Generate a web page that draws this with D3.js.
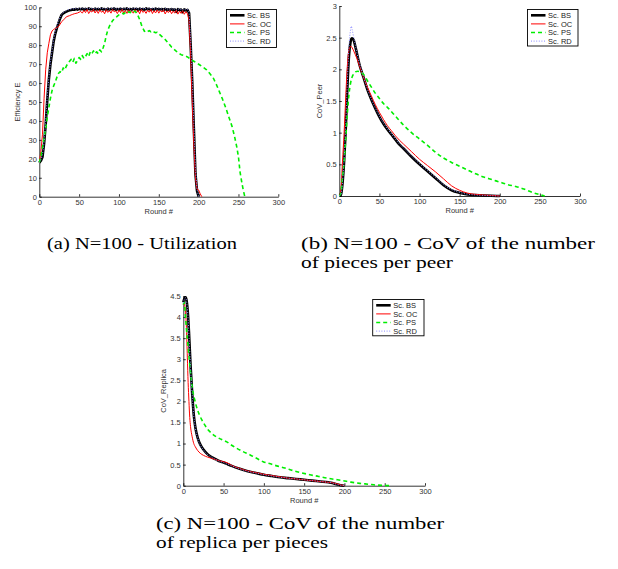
<!DOCTYPE html>
<html>
<head>
<meta charset="utf-8">
<script src="https://cdn.jsdelivr.net/npm/d3@7/dist/d3.min.js"></script>
<style>
  body { margin: 0; background: #fff; }
  .fc-axis text { font-family: "Liberation Sans", Arial, sans-serif; font-size: 7.5px; fill: #333; }
  .fc-axis path, .fc-axis line { stroke: #000; stroke-width: 0.8; }
  .fc-label { font-family: "Liberation Sans", Arial, sans-serif; font-size: 7.5px; fill: #333; }
  .fc-legend text { font-family: "Liberation Sans", Arial, sans-serif; font-size: 7.5px; fill: #222; }
  .fc-caption { font-family: "Liberation Serif", "Times New Roman", serif; font-size: 16.5px; fill: #000; }
</style>
</head>
<body>
<svg id="figure" width="618" height="569"></svg>
<script>

// Legend names and tick labels shared by the three plots
var scenarioNames = ['Sc. BS', 'Sc. OC', 'Sc. PS', 'Sc. RD'];
var roundTicks    = [0, 50, 100, 150, 200, 250, 300];
var effTicks      = [0, 10, 20, 30, 40, 50, 60, 70, 80, 90, 100];
var peerTicks     = [0, 0.5, 1, 1.5, 2, 2.5, 3];
var replicaTicks  = [0, 0.5, 1, 1.5, 2, 2.5, 3, 3.5, 4, 4.5];

// (a) Efficiency E per round
var roundsEff = [0, 2, 4, 6, 8, 10, 12, 14, 16, 18, 20, 22, 24, 26, 28, 30, 32, 34, 36, 38, 40, 42, 44, 46, 48, 50,
  52, 54, 56, 58, 60, 62, 64, 66, 68, 70, 72, 74, 76, 78, 80, 82, 84, 86, 88, 90, 92, 94, 96, 98, 100,
  102, 104, 106, 108, 110, 112, 114, 116, 118, 120, 122, 124, 126, 128, 130, 132, 134, 136, 138, 140,
  142, 144, 146, 148, 150, 152, 154, 156, 158, 160, 162, 164, 166, 168, 170, 172, 174, 176, 178, 180,
  182, 184, 186, 188, 190, 192, 194, 196, 198, 200, 202, 204];

var effBS = [18, 19, 21, 28, 38, 51, 62, 70, 76, 82, 86, 89, 91.5, 94, 96, 96.8, 97.3, 97.7, 98.1, 98.4, 98.6, 98.9, 98.7, 99.1, 98.8, 99.2,
  98.9, 99.3, 98.7, 99.2, 98.8, 99.4, 98.9, 99.1, 98.6, 99.3, 98.8, 99.2, 98.7, 99.4, 98.9, 99.1, 98.6, 99.3, 98.8, 99.2,
  98.9, 99.4, 98.7, 99.1, 98.8, 99.3, 98.6, 99.2, 98.9, 99.4, 98.7, 99.1, 98.8, 99.3, 98.9, 99.2, 98.6, 99.3, 98.8, 99.1,
  98.7, 99.4, 98.9, 99.2, 98.6, 99.1, 98.8, 99.3, 98.7, 99.2, 98.8, 99.1, 98.5, 99.2, 98.7, 99, 98.4, 99.1, 98.6, 98.9,
  97.6, 99, 98.5, 98.8, 97.4, 98.9, 98.3, 98.6,
  97, 80, 60, 36, 12, 3, 0, null, null];

var effOC = [18, 24, 33, 52, 67, 76, 81, 85.5, 87.5, 88.3, 88.8, 89.3, 89.8, 91, 92.4, 93.2, 94, 95, 95.3, 95.6, 96, 96.3, 96.6, 96.8, 97, 97.4,
  97.8, 96.9, 98.4, 97.2, 98.8, 96.7, 98.1, 97.5, 98.9, 97.0,
  98.3, 96.8, 98.6, 97.4, 98.0, 96.6, 98.7, 97.3, 98.2, 96.9,
  98.8, 97.6, 98.1, 96.7, 98.5, 97.2, 98.9, 97.0, 98.3, 96.8,
  98.6, 97.5, 98.0, 96.9, 98.7, 97.1, 98.4, 96.6, 98.8, 97.3,
  98.1, 96.8, 98.5, 97.4, 98.9, 96.7, 98.2, 97.0, 98.6, 96.9,
  98.3, 97.5, 98.7, 96.5, 98.1, 97.2, 98.4, 96.6, 98.0, 96.9,
  98.5, 96.4, 97.9, 96.8, 98.2, 96.3, 97.7, 96.6,
  93, 75, 50, 28, 10, 4, 3.5, 1.5, 0];

var effRD = [18, 19.5, 22, 29, 40, 53, 63, 71, 77, 83, 87, 90, 92.5, 94.5, 96.3, 97.2, 97.8, 98.2, 98.6, 98.9, 99.1, 99.3, 99.0, 99.4, 99.1, 99.5,
  99.2, 99.6, 99.0, 99.5, 99.1, 99.7, 99.2, 99.4, 98.9, 99.6,
  99.1, 99.5, 99.0, 99.7, 99.2, 99.4, 98.9, 99.6, 99.1, 99.5,
  99.2, 99.7, 99.0, 99.4, 99.1, 99.6, 98.9, 99.5, 99.2, 99.7,
  99.0, 99.4, 99.1, 99.6, 99.2, 99.5, 98.9, 99.6, 99.1, 99.4,
  99.0, 99.5, 99.1, 99.6, 99.0, 99.5, 99.1, 99.4, 98.8, 99.5,
  99.0, 99.3, 98.7, 99.4, 98.9, 99.2, 98.6, 99.3, 98.8, 99.1,
  98.5, 99.2, 98.7, 99.0, 98.4, 99.1, 98.6, 98.9,
  97.5, 82, 62, 38, 14, 4, 0, null, null];

var roundsEffPS = [0, 2, 4, 6, 8, 10, 12, 14, 16, 18, 20, 22, 24, 26, 28, 30, 32, 34, 36, 38, 40, 42, 44, 46, 48, 50,
  52, 54, 56, 58, 60, 62, 64, 66, 68, 70, 72, 74, 76, 78, 80, 82, 84, 86, 88, 90, 92, 94, 96, 98, 100,
  102, 104, 106, 108, 110, 112, 114, 116, 118, 120, 122, 124, 126, 128, 130, 132, 134, 136, 138, 140,
  142, 144, 146, 148, 150, 154, 158, 162, 166, 170, 174, 178, 182, 186, 190, 194, 198, 202, 206, 210,
  214, 218, 222, 226, 230, 234, 238, 242, 245, 248, 250, 252, 254, 256, 258];

var effPS = [18, 21, 26, 31, 36, 42, 47, 52, 56, 58.5, 60.5, 63, 65, 66, 65.5, 68, 67, 69, 70.5, 71.5, 72.5, 71, 73, 70.5, 72, 73.5,
  72.5, 74.5, 73, 74, 75.5, 74, 76.5, 75.5, 77, 75.5, 76.5, 75.5, 77.5, 76.5, 78.5, 81, 85, 88, 90, 91.5, 93, 93.8, 94.5, 95.3, 96,
  96.3, 96.8, 96.5, 97.2, 96.8, 97.6, 97.2, 98, 97.5, 98, 97, 95.5, 93.5, 91, 89, 87.3, 87.8, 87.2, 87.7, 87.1,
  87.6, 87, 86.6, 86.8, 86, 84.5, 83, 81, 79, 77.5, 76, 75, 74.5, 73.8, 72.5, 71.5, 70.5, 69.4, 68.3, 67,
  65, 63, 59.5, 55.5, 51.5, 47, 42, 37, 32, 26, 21, 13, 8, 3.5, 0];

// (b) CoV of the number of pieces per peer
var roundsPeer = [0, 2, 4, 6, 8, 10, 12, 14, 15, 16, 18, 20, 22, 25, 30, 35, 40, 45, 50, 55, 60, 65, 70, 75, 80,
  90, 100, 110, 120, 130, 140, 150, 160, 170, 180, 190, 200];
var peerBS = [0, 0.02, 0.2, 0.55, 1.05, 1.7, 2.2, 2.43, 2.48, 2.49, 2.46, 2.36, 2.25, 2.08, 1.88, 1.68, 1.52, 1.38, 1.25, 1.14,
  1.05, 0.97, 0.89, 0.81, 0.75, 0.62, 0.5, 0.39, 0.28, 0.17, 0.09, 0.05, 0.025, 0.015, 0.008, 0.003, 0];
var peerOC = [0, 0.1, 0.55, 1.0, 1.55, 2.05, 2.3, 2.36, 2.36, 2.34, 2.29, 2.23, 2.17, 2.06, 1.88, 1.72, 1.58, 1.44, 1.32, 1.21,
  1.11, 1.03, 0.95, 0.88, 0.82, 0.7, 0.58, 0.48, 0.38, 0.27, 0.16, 0.09, 0.045, 0.025, 0.015, 0.008, 0];
var peerRD = [0, 0.02, 0.22, 0.6, 1.12, 1.8, 2.35, 2.62, 2.68, 2.63, 2.5, 2.38, 2.26, 2.1, 1.89, 1.69, 1.53, 1.39, 1.26, 1.15,
  1.06, 0.98, 0.9, 0.82, 0.76, 0.63, 0.51, 0.4, 0.29, 0.18, 0.1, 0.055, 0.028, 0.016, 0.009, 0.004, 0];
var roundsPeerPS = [0, 2, 4, 6, 8, 10, 12, 14, 16, 18, 20, 23, 26, 30, 35, 40, 45, 50, 55, 60, 70, 80, 90, 100,
  110, 120, 130, 140, 150, 160, 170, 180, 190, 200, 210, 220, 230, 240, 250, 256];
var peerPS = [0, 0.05, 0.3, 0.55, 0.9, 1.3, 1.6, 1.78, 1.88, 1.93, 1.96, 1.97, 1.96, 1.92, 1.82, 1.72, 1.62, 1.54, 1.46, 1.4,
  1.26, 1.12, 1.0, 0.9, 0.8, 0.69, 0.6, 0.53, 0.47, 0.41, 0.35, 0.3, 0.26, 0.22, 0.18, 0.15, 0.11, 0.06, 0.02, 0];

// (c) CoV of the number of replica per pieces
var roundsReplica = [0, 1, 2, 3, 4, 5, 6, 7, 8, 9, 11, 13, 15, 18, 21, 25, 30, 35, 40, 45, 50, 55, 60, 70, 80, 90,
  100, 110, 120, 130, 140, 150, 160, 170, 180, 185, 190, 195, 200];
var replicaBS = [4.35, 4.42, 4.46, 4.47, 4.4, 4.25, 4.0, 3.65, 3.25, 2.85, 2.2, 1.68, 1.38, 1.13, 0.98, 0.86, 0.75, 0.68, 0.63,
  0.58, 0.55, 0.51, 0.47, 0.4, 0.34, 0.3, 0.26, 0.23, 0.2, 0.18, 0.16, 0.14, 0.12, 0.1, 0.08, 0.065, 0.035, 0.012, 0];
var replicaOC = [4.3, 4.32, 4.25, 4.05, 3.7, 3.05, 2.45, 2.0, 1.62, 1.4, 1.16, 1.0, 0.92, 0.83, 0.77, 0.72, 0.68, 0.65, 0.62,
  0.59, 0.57, 0.54, 0.48, 0.41, 0.35, 0.31, 0.27, 0.24, 0.21, 0.18, 0.16, 0.14, 0.12, 0.1, 0.08, 0.07, 0.05, 0.02, 0];
var replicaRD = [4.33, 4.4, 4.45, 4.46, 4.38, 4.22, 3.95, 3.6, 3.2, 2.8, 2.16, 1.66, 1.37, 1.12, 0.97, 0.85, 0.74, 0.68, 0.62,
  0.58, 0.55, 0.51, 0.47, 0.4, 0.34, 0.3, 0.26, 0.23, 0.2, 0.18, 0.16, 0.14, 0.12, 0.1, 0.08, 0.065, 0.035, 0.012, 0];
var roundsReplicaPS = [0, 1, 2, 3, 4, 6, 8, 10, 12, 14, 16, 18, 20, 23, 27, 31, 36, 41, 47, 54, 60, 66, 74, 83, 91, 99,
  108, 116, 126, 136, 146, 157, 168, 178, 188, 198, 208, 219, 230, 240, 250, 257];
var replicaPS = [4.3, 4.35, 4.2, 3.95, 3.7, 3.3, 2.88, 2.5, 2.22, 2.05, 1.9, 1.78, 1.68, 1.56, 1.43, 1.32, 1.23, 1.16, 1.1,
  1.04, 0.96, 0.89, 0.81, 0.73, 0.65, 0.57, 0.52, 0.47, 0.42, 0.36, 0.31, 0.26, 0.22, 0.18, 0.15, 0.12, 0.085, 0.055,
  0.035, 0.015, 0.005, 0];


// Line styles, in the order of scenarioNames
var lineStyles = [
  { color: '#000000', width: 2.6, dash: null },
  { color: '#ff0000', width: 1.0, dash: null },
  { color: '#00ee00', width: 1.6, dash: '4,3' },
  { color: '#8c8cff', width: 1.0, dash: '1,1.6' }
];

function zipSeries(rounds, values) {
  return rounds.map(function(r, i) { return [r, values[i]]; });
}

/**
  * Class definition for the MATLAB-like line plots.
  */
var LineChart = function(svg, series, options) {

  var _this = this;

  _this.setValues(svg, series, options);
  _this.drawLineChart();
};

LineChart.prototype.setValues = function(svg, series, options) {

  var _this = this;
  _this.svg     = svg;
  _this.series  = series;
  _this.options = options || { };

  var box = _this.options.box;

  _this.x = d3.scaleLinear()
              .domain([0, 300])
              .range([box.left, box.right]);
  _this.y = d3.scaleLinear()
              .domain(_this.options.yDomain)
              .range([box.bottom, box.top]);
};

LineChart.prototype.drawAxes = function() {

  var _this = this,
      box   = _this.options.box;

  var xAxis = d3.axisBottom(_this.x)
                .tickValues(roundTicks)
                .tickSizeInner(-2.5)
                .tickSizeOuter(0)
                .tickPadding(3);

  var yAxis = d3.axisLeft(_this.y)
                .tickValues(_this.options.yTicks)
                .tickFormat(d3.format('~g'))
                .tickSizeInner(-2.5)
                .tickSizeOuter(0)
                .tickPadding(2.5);

  _this.plot.append('g')
            .attr('class', 'fc-axis')
            .attr('transform', 'translate(0,' + box.bottom + ')')
            .call(xAxis);

  _this.plot.append('g')
            .attr('class', 'fc-axis')
            .attr('transform', 'translate(' + box.left + ',0)')
            .call(yAxis);

  _this.plot.append('text')
            .attr('class', 'fc-label')
            .attr('x', (box.left + box.right) / 2)
            .attr('y', box.bottom + 17)
            .attr('text-anchor', 'middle')
            .text('Round #');

  _this.plot.append('text')
            .attr('class', 'fc-label')
            .attr('transform', 'translate(' + (box.left - _this.options.yLabelGap) + ','
                                + ((box.top + box.bottom) / 2) + ') rotate(-90)')
            .attr('text-anchor', 'middle')
            .text(_this.options.yLabel);
};

LineChart.prototype.drawLines = function() {

  var _this = this;

  var line = d3.line()
               .defined(function(d) { return d[1] !== null; })
               .curve(_this.options.smooth ? d3.curveMonotoneX : d3.curveLinear)
               .x(function(d) { return _this.x(d[0]); })
               .y(function(d) { return _this.y(d[1]); });

  _this.plot.append('g')
            .attr('class', 'fc-lines')
            .selectAll('path')
            .data(_this.series)
            .enter()
            .append('path')
            .attr('fill', 'none')
            .attr('stroke', function(d, i) { return lineStyles[i].color; })
            .attr('stroke-width', function(d, i) { return lineStyles[i].width; })
            .attr('stroke-dasharray', function(d, i) { return lineStyles[i].dash; })
            .attr('stroke-linejoin', 'round')
            .attr('d', line);
};

LineChart.prototype.drawLegend = function() {

  var _this  = this,
      legend = _this.options.legend;

  var g = _this.plot.append('g')
                    .attr('class', 'fc-legend')
                    .attr('transform', 'translate(' + legend.x + ',' + legend.y + ')');

  g.append('rect')
   .attr('width', legend.width)
   .attr('height', legend.height)
   .attr('fill', '#fff')
   .attr('stroke', '#000')
   .attr('stroke-width', 0.9);

  var rows = g.selectAll('.fc-legend-row')
              .data(scenarioNames)
              .enter()
              .append('g')
              .attr('class', 'fc-legend-row')
              .attr('transform', function(d, i) { return 'translate(0,' + (5.8 + i * 8.6) + ')'; });

  rows.append('line')
      .attr('x1', 3.5)
      .attr('x2', 18)
      .attr('stroke', function(d, i) { return lineStyles[i].color; })
      .attr('stroke-width', function(d, i) { return lineStyles[i].width; })
      .attr('stroke-dasharray', function(d, i) { return lineStyles[i].dash; });

  rows.append('text')
      .attr('x', 20.5)
      .attr('y', 2.6)
      .text(function(d) { return d; });
};

// Captions in the reference are set wider than the plain font, so each line gets its width
LineChart.prototype.drawCaption = function() {

  var _this   = this,
      caption = _this.options.caption;

  caption.lines.forEach(function(line, i) {
    _this.svg.append('text')
             .attr('class', 'fc-caption')
             .attr('x', caption.x)
             .attr('y', caption.y + i * 18.5)
             .attr('textLength', line.width)
             .attr('lengthAdjust', 'spacingAndGlyphs')
             .text(line.text);
  });
};

LineChart.prototype.drawLineChart = function() {

  var _this = this;

  _this.plot = _this.svg.append('g')
                        .attr('class', 'fc-line-chart');

  _this.drawAxes();
  _this.drawLines();
  _this.drawLegend();
  _this.drawCaption();
};


var figure = d3.select('#figure');

new LineChart(figure, [
  zipSeries(roundsEff, effBS),
  zipSeries(roundsEff, effOC),
  zipSeries(roundsEffPS, effPS),
  zipSeries(roundsEff, effRD)
], {
  box       : { left: 39.3, right: 278.3, top: 7.3, bottom: 196.7 },
  yDomain   : [0, 100],
  yTicks    : effTicks,
  yLabel    : 'Efficiency E',
  yLabelGap : 19,
  smooth    : false,
  legend    : { x: 226.5, y: 9.5, width: 50, height: 38 },
  caption   : { x: 47, y: 249, lines: [{ text: '(a) N=100 - Utilization', width: 190 }] }
});

new LineChart(figure, [
  zipSeries(roundsPeer, peerBS),
  zipSeries(roundsPeer, peerOC),
  zipSeries(roundsPeerPS, peerPS),
  zipSeries(roundsPeer, peerRD)
], {
  box       : { left: 339.3, right: 580, top: 6, bottom: 196 },
  yDomain   : [0, 3],
  yTicks    : peerTicks,
  yLabel    : 'CoV_Peer',
  yLabelGap : 17,
  smooth    : true,
  legend    : { x: 527.5, y: 9.5, width: 50.5, height: 36.5 },
  caption   : { x: 301, y: 249, lines: [
    { text: '(b) N=100 - CoV of the number', width: 294 },
    { text: 'of pieces per peer', width: 152 }
  ] }
});

new LineChart(figure, [
  zipSeries(roundsReplica, replicaBS),
  zipSeries(roundsReplica, replicaOC),
  zipSeries(roundsReplicaPS, replicaPS),
  zipSeries(roundsReplica, replicaRD)
], {
  box       : { left: 183.3, right: 425, top: 296, bottom: 485.7 },
  yDomain   : [0, 4.5],
  yTicks    : replicaTicks,
  yLabel    : 'CoV_Replica',
  yLabelGap : 17.5,
  smooth    : true,
  legend    : { x: 372.7, y: 299.5, width: 51.3, height: 36.3 },
  caption   : { x: 156, y: 529, lines: [
    { text: '(c) N=100 - CoV of the number', width: 288 },
    { text: 'of replica per pieces', width: 172 }
  ] }
});

</script>
</body>
</html>
